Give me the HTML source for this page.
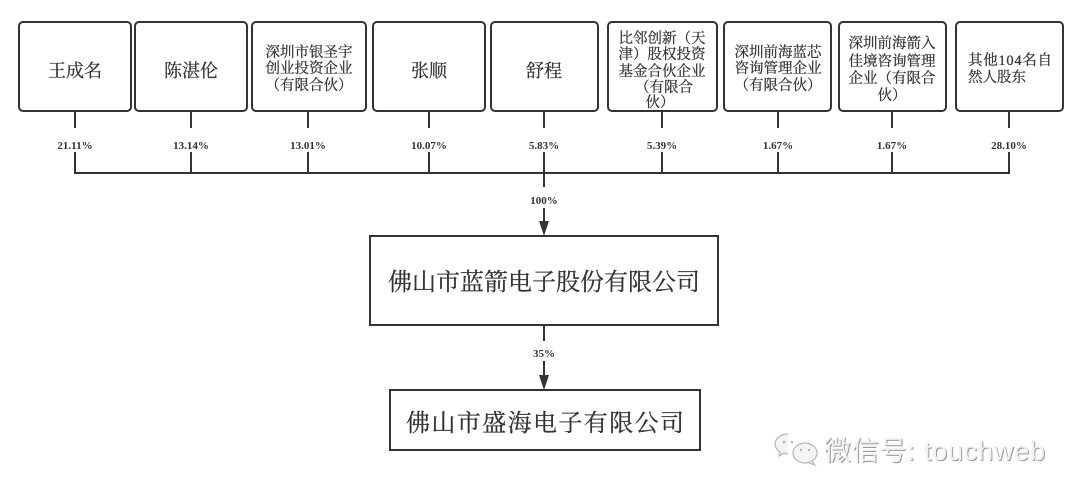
<!DOCTYPE html>
<html><head><meta charset="utf-8"><style>
html,body{margin:0;padding:0;background:#fff;}
svg{display:block;}
.cj{font-family:"Liberation Serif","Noto Serif CJK SC",serif;fill:#333;stroke:#333;stroke-width:0.25;}
.pc{font-family:"Liberation Serif",serif;font-weight:bold;font-size:11px;fill:#333;text-anchor:middle;}
</style></head><body>
<svg width="1080" height="497" viewBox="0 0 1080 497" xmlns="http://www.w3.org/2000/svg">
<rect width="1080" height="497" fill="#fff"/>
<g fill="none" stroke="#333" stroke-width="2">
<rect x="19" y="22" width="112" height="89" rx="4"/>
<rect x="135" y="22" width="112" height="89" rx="4"/>
<rect x="252" y="22" width="114" height="89" rx="4"/>
<rect x="373" y="22" width="112" height="89" rx="4"/>
<rect x="491" y="22" width="107" height="89" rx="4"/>
<rect x="608" y="22" width="109" height="89" rx="4"/>
<rect x="724" y="22" width="107" height="89" rx="4"/>
<rect x="839" y="22" width="107" height="89" rx="4"/>
<rect x="956" y="22" width="107" height="89" rx="4"/>
<path d="M75 111V128M75 152V173M191 111V128M191 152V173M308 111V128M308 152V173M429 111V128M429 152V173M544 111V128M544 152V173M662 111V128M662 152V173M778 111V128M778 152V173M892 111V128M892 152V173M1009 111V128M1009 152V173"/>
<path d="M74 173H1010"/>
<path d="M544 173V187M544 208V222"/>
<rect x="370" y="236" width="348" height="89"/>
<path d="M544 325V341M544 361V377"/>
<rect x="390" y="390" width="310" height="60"/>
</g>
<path d="M539 221L549 221L544 236Z" fill="#333"/>
<path d="M539 375L549 375L544 390Z" fill="#333"/>

<g class="cj" text-anchor="middle">
<text x="75" y="77" font-size="18">王成名</text>
<text x="191" y="77" font-size="18">陈湛伦</text>
<text x="429" y="77" font-size="18">张顺</text>
<text x="544" y="77" font-size="18">舒程</text>
<g font-size="14.5">
<text x="309" y="57">深圳市银圣宇</text>
<text x="309" y="73">创业投资企业</text>
<text x="309" y="90">（有限合伙）</text>
<text x="662" y="43">比邻创新（天</text>
<text x="662" y="59">津）股权投资</text>
<text x="662" y="76">基金合伙企业</text>
<text x="664" y="92">（有限合</text>
<text x="660" y="107">伙）</text>
<text x="778" y="57">深圳前海蓝芯</text>
<text x="778" y="73">咨询管理企业</text>
<text x="778" y="90">（有限合伙）</text>
<text x="892" y="48">深圳前海箭入</text>
<text x="892" y="66">佳境咨询管理</text>
<text x="892" y="83">企业（有限合</text>
<text x="892" y="100">伙）</text>
</g>
</g>
<g class="cj" font-size="14.5">
<text x="968" y="65" textLength="84" lengthAdjust="spacing">其他104名自</text>
<text x="968" y="82">然人股东</text>
</g>

<g class="pc">
<text x="75" y="149">21.11%</text>
<text x="191" y="149">13.14%</text>
<text x="308" y="149">13.01%</text>
<text x="429" y="149">10.07%</text>
<text x="544" y="149">5.83%</text>
<text x="662" y="149">5.39%</text>
<text x="778" y="149">1.67%</text>
<text x="892" y="149">1.67%</text>
<text x="1009" y="149">28.10%</text>
<text x="544" y="204">100%</text>
<text x="544" y="357">35%</text>
</g>

<text class="cj" x="544" y="290" font-size="24" text-anchor="middle">佛山市蓝箭电子股份有限公司</text>
<text class="cj" x="545" y="431" font-size="24" text-anchor="middle" textLength="278" lengthAdjust="spacing">佛山市盛海电子有限公司</text>

<!-- watermark -->
<g fill="#f4f4f4" stroke="#b5b5b5" stroke-width="1.2">
<path d="M788 434c-8 0-13 5-13 10 0 3 2 6 5 8l-1 4 5-3c1 0 3 1 4 1"/>
<ellipse cx="805" cy="453" rx="12" ry="10"/>
<path d="M812 461l3 4-6-2"/>
</g>
<g fill="#b5b5b5">
<circle cx="784" cy="442" r="1.3"/><circle cx="792" cy="442" r="1.3"/>
<circle cx="801" cy="450" r="1.2"/><circle cx="809" cy="450" r="1.2"/>
</g>
<text x="825" y="461" font-size="27" fill="#9a9a9a" textLength="221" lengthAdjust="spacing" style="font-family:'Liberation Sans','Noto Sans CJK SC',sans-serif">微信号: touchweb</text>
<text x="824" y="460" font-size="27" fill="#f2f2f2" textLength="221" lengthAdjust="spacing" style="font-family:'Liberation Sans','Noto Sans CJK SC',sans-serif">微信号: touchweb</text>
</svg>
</body></html>
